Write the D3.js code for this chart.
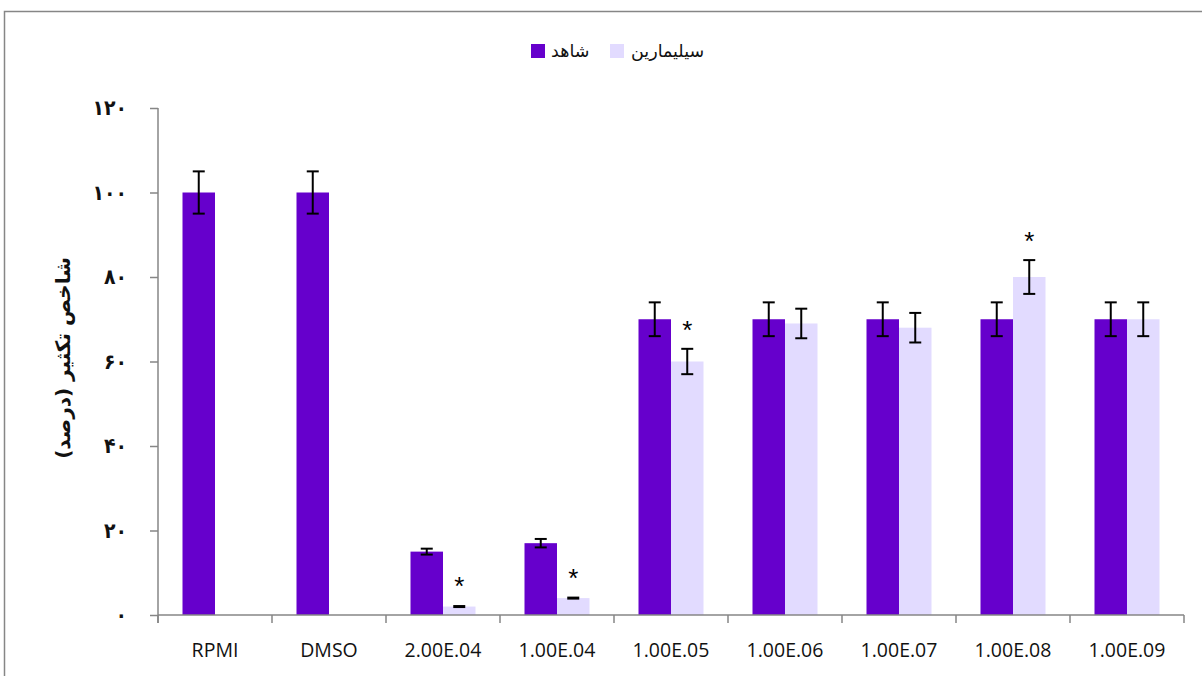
<!DOCTYPE html>
<html>
<head>
<meta charset="utf-8">
<script src="https://cdn.jsdelivr.net/npm/d3@7"></script>
<style>
  body { margin: 0; background: #fff; }
  svg { display: block; }
  .tick-fa { font-family: "DejaVu Sans Condensed", "DejaVu Sans", sans-serif; font-weight: bold; font-size: 21px; }
  .xlab { font-family: "Open Sans", "Noto Sans", sans-serif; font-size: 19.5px; fill: #111; }
</style>
</head>
<body>
<svg id="chart" width="1202" height="676"></svg>
<script>
var categories = ["RPMI", "DMSO", "2.00E.04", "1.00E.04", "1.00E.05", "1.00E.06", "1.00E.07", "1.00E.08", "1.00E.09"];
var controlValues = [100, 100, 15, 17, 70, 70, 70, 70, 70];
var controlErrors = [5, 5, 0.7, 1, 4, 4, 4, 4, 4];
var silyValues = [null, null, 2, 4, 60, 69, 68, 80, 70];
var silyErrors = [null, null, 0.3, 0.3, 3, 3.5, 3.5, 4, 4];
var silySignif = [false, false, true, true, true, false, false, true, false];
var yTicks = [0, 20, 40, 60, 80, 100, 120];
var yTickLabels = ["۰", "۲۰", "۴۰", "۶۰", "۸۰", "۱۰۰", "۱۲۰"];
var seriesNames = ["شاهد", "سیلیمارین"];
var yTitle = "شاخص تکثیر (درصد)";

var darkColor = "#6600cc";
var lightColor = "#e2dbff";
var axisColor = "#868686";

var svg = d3.select("#chart");

// outer frame
svg.append("rect")
    .attr("x", 4.5).attr("y", 11.5)
    .attr("width", 1220).attr("height", 700)
    .attr("fill", "none")
    .attr("stroke", axisColor)
    .attr("stroke-width", 1.5);

var plotLeft = 158, plotRight = 1184, plotTop = 108, plotBottom = 615;

var xScale = d3.scaleBand()
    .domain(categories)
    .range([plotLeft, plotRight]);

var yScale = d3.scaleLinear()
    .domain([0, 120])
    .range([plotBottom, plotTop]);

var barW = 32.5;

// bars
var groups = svg.selectAll("g.cat")
    .data(categories)
    .enter().append("g")
    .attr("class", "cat");

groups.append("rect")
    .attr("x", function (d) { return xScale(d) + xScale.bandwidth() / 2 - barW; })
    .attr("y", function (d, i) { return yScale(controlValues[i]); })
    .attr("width", barW)
    .attr("height", function (d, i) { return plotBottom - yScale(controlValues[i]); })
    .attr("fill", darkColor);

groups.filter(function (d, i) { return silyValues[i] != null; })
    .append("rect")
    .attr("x", function (d) { return xScale(d) + xScale.bandwidth() / 2; })
    .attr("y", function (d) { return yScale(silyValues[categories.indexOf(d)]); })
    .attr("width", barW)
    .attr("height", function (d) { return plotBottom - yScale(silyValues[categories.indexOf(d)]); })
    .attr("fill", lightColor);

// error bars
function errorBar(cx, v, e) {
    var g = svg.append("g")
        .attr("stroke", "#000")
        .attr("stroke-width", 2);
    var y1 = yScale(v + e), y2 = yScale(v - e);
    if (y2 - y1 < 3) {
        g.append("rect")
            .attr("x", cx - 6).attr("y", yScale(v) - 1.5)
            .attr("width", 12).attr("height", 3)
            .attr("fill", "#000").attr("stroke", "none");
        return;
    }
    g.append("line").attr("x1", cx).attr("x2", cx).attr("y1", y1).attr("y2", y2);
    g.append("line").attr("x1", cx - 6).attr("x2", cx + 6).attr("y1", y1).attr("y2", y1);
    g.append("line").attr("x1", cx - 6).attr("x2", cx + 6).attr("y1", y2).attr("y2", y2);
}

categories.forEach(function (c, i) {
    var mid = xScale(c) + xScale.bandwidth() / 2;
    errorBar(mid - barW / 2, controlValues[i], controlErrors[i]);
    if (silyValues[i] != null) {
        errorBar(mid + barW / 2, silyValues[i], silyErrors[i]);
        if (silySignif[i]) {
            svg.append("text")
                .attr("x", mid + barW / 2)
                .attr("y", yScale(silyValues[i] + silyErrors[i]) - 10)
                .attr("text-anchor", "middle")
                .style("font-family", "Liberation Sans, sans-serif")
                .style("font-size", "26px")
                .text("*");
        }
    }
});

// y axis
var yAxis = d3.axisLeft(yScale)
    .tickValues(yTicks)
    .tickSize(8)
    .tickFormat("");
var yG = svg.append("g")
    .attr("transform", "translate(" + plotLeft + ",0)")
    .call(yAxis);
yG.select(".domain").remove();
yG.selectAll("line").attr("stroke", axisColor).attr("stroke-width", 1.5);
yG.append("line")
    .attr("x1", 0).attr("x2", 0)
    .attr("y1", plotTop).attr("y2", plotBottom + 8)
    .attr("stroke", axisColor).attr("stroke-width", 1.5);

svg.selectAll("text.ylab")
    .data(yTicks)
    .enter().append("text")
    .attr("class", "tick-fa")
    .attr("x", 127)
    .attr("y", function (d) { return yScale(d); })
    .attr("dy", "0.35em")
    .attr("text-anchor", "end")
    .attr("fill", "#111")
    .text(function (d, i) { return yTickLabels[i]; });

svg.append("text")
    .attr("transform", "translate(63," + 358 + ") rotate(-90)")
    .attr("text-anchor", "middle")
    .attr("dy", "0.35em")
    .style("font-family", "DejaVu Sans, sans-serif")
    .style("font-weight", "bold")
    .style("font-size", "20px")
    .attr("fill", "#111")
    .text(yTitle);

// x axis
var xG = svg.append("g").attr("transform", "translate(0," + plotBottom + ")");
xG.append("line")
    .attr("x1", plotLeft).attr("x2", plotRight)
    .attr("stroke", axisColor).attr("stroke-width", 1.5);
xG.selectAll("line.tk")
    .data(categories.concat(["end"]))
    .enter().append("line")
    .attr("class", "tk")
    .attr("x1", function (d, i) { return plotLeft + i * xScale.bandwidth(); })
    .attr("x2", function (d, i) { return plotLeft + i * xScale.bandwidth(); })
    .attr("y1", 0).attr("y2", 8)
    .attr("stroke", axisColor).attr("stroke-width", 1.5);
xG.selectAll("text")
    .data(categories)
    .enter().append("text")
    .attr("class", "xlab")
    .attr("x", function (d) { return xScale(d) + xScale.bandwidth() / 2; })
    .attr("y", 42)
    .attr("text-anchor", "middle")
    .text(function (d) { return d; });

// legend
var legend = svg.append("g");
var legendX = [531, 610];
var textX = [551, 631];
[darkColor, lightColor].forEach(function (col, i) {
    legend.append("rect")
        .attr("x", legendX[i]).attr("y", 44)
        .attr("width", 14).attr("height", 14)
        .attr("fill", col);
    legend.append("text")
        .attr("x", textX[i]).attr("y", 51)
        .attr("dy", "0.35em")
        .style("font-family", "DejaVu Sans, sans-serif")
        .style("font-size", "17.5px")
        .attr("fill", "#111")
        .text(seriesNames[i]);
});
</script>
</body>
</html>
